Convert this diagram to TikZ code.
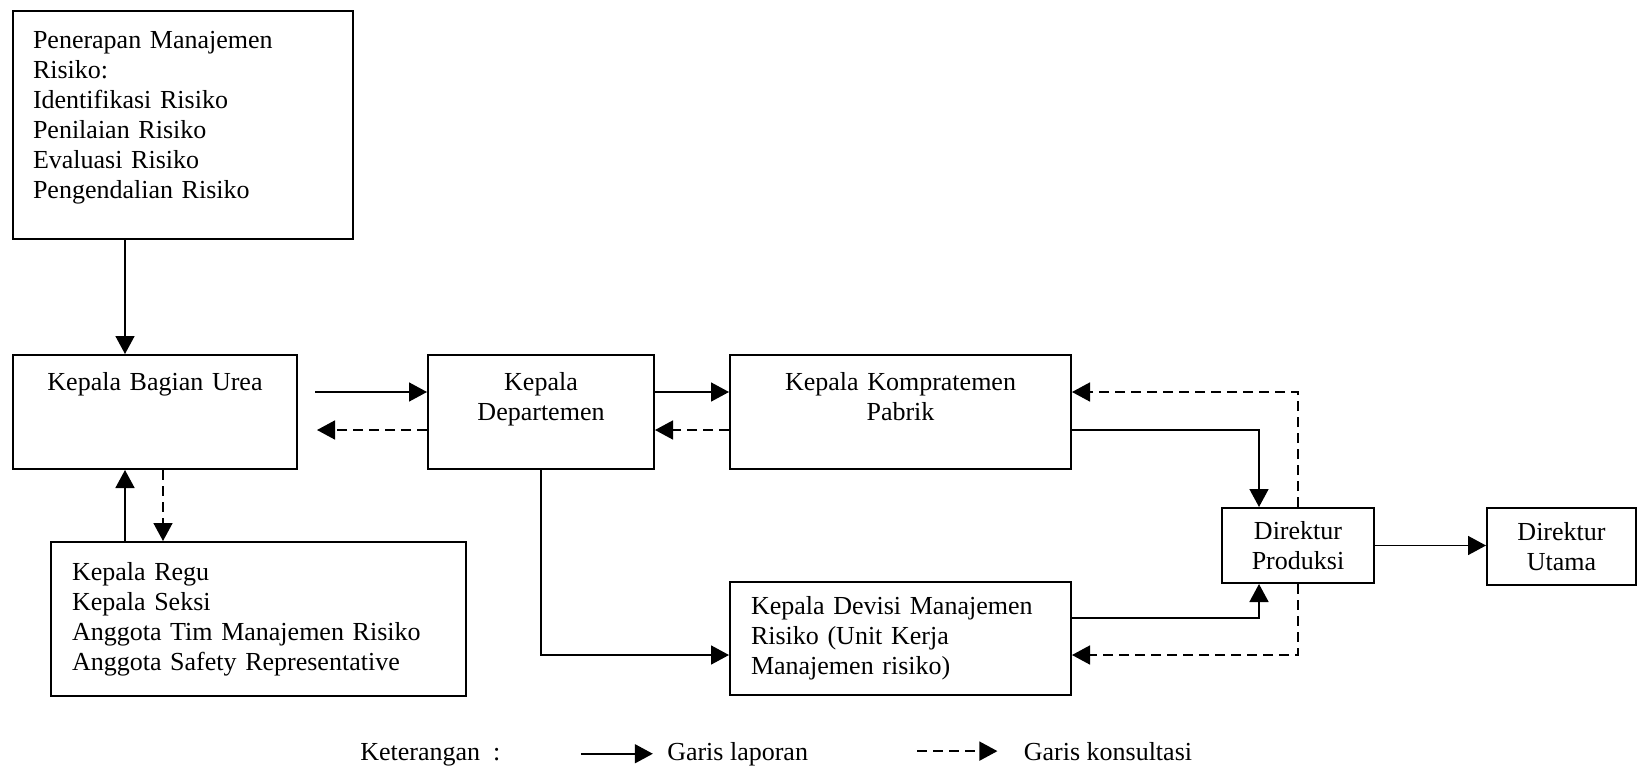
\documentclass[tikz,border=0pt]{standalone}
\usepackage{fontspec}
\setmainfont{Liberation Serif}
\usepackage{tikz}
\usetikzlibrary{positioning, arrows.meta}
\tikzset{%
  >={Triangle[length=9pt,width=9.5pt]},
  % Specifications for style of nodes:
            base/.style = {rectangle, draw=black, line width=1pt,
                           inner sep=0pt, align=center,
                           font=\fontsize{13}{15}\selectfont},
            topbox/.style = {base, text width=#1, inner ysep=8.5pt,
                           text height=9pt, text depth=31pt},
            listbox/.style = {base, align=left, inner xsep=10.5pt},
            legend/.style = {inner sep=0pt, font=\fontsize{13}{15}\selectfont},
  % Specifications for style of lines:
            report/.style = {->, line width=0.8pt},
            consult/.style = {->, line width=0.8pt, dash pattern=on 5pt off 3pt},
 }

\begin{document}
\begin{tikzpicture}
  \useasboundingbox (0,0) rectangle (818.5pt,-388pt);
  % Specification of nodes (position, etc.)
     \node (pen) [listbox, anchor=north west, text width=150pt, inner xsep=10pt,
                  inner ysep=9.5pt, text height=9pt, text depth=86pt] at (6pt,-5pt)
           {Penerapan Manajemen\\Risiko:\\Identifikasi Risiko\\Penilaian Risiko\\Evaluasi Risiko\\Pengendalian Risiko};
     \node (bagian) [topbox=142pt, below=57pt of pen.south west, anchor=north west] {Kepala Bagian Urea};
     \node (dept) [topbox=113pt, right=64.5pt of bagian.north east, anchor=north west] {Kepala\\Departemen};
     \node (komp) [topbox=170.5pt, right=37pt of dept.north east, anchor=north west] {Kepala Kompratemen\\Pabrik};

     \node (regu) [listbox, text width=186.5pt, minimum height=77pt,
                   below right=35.5pt and 19pt of bagian.south west]
           {Kepala Regu\\Kepala Seksi\\Anggota Tim Manajemen Risiko\\Anggota Safety Representative};
     \node (devisi) [listbox, text width=149.5pt, minimum height=56.5pt,
                     below=55.5pt of komp.south west, anchor=north west]
           {Kepala Devisi Manajemen\\Risiko (Unit Kerja\\Manajemen risiko)};

     \node (dirprod) [base, text width=76pt, minimum height=37.5pt,
                      below right=18.5pt and 74.5pt of komp.south east] {Direktur\\Produksi};
     \node (dirut) [base, text width=74.5pt, minimum height=38.5pt,
                    right=55.5pt of dirprod.north east, anchor=north west] {Direktur\\Utama};

     \node (ket) [legend, anchor=base west] at (180pt,-380pt) {Keterangan \ :};
     \node (lapor) [legend, right=83pt of ket.base east, anchor=base west] {Garis laporan};
     \node (konsul) [legend, right=107.5pt of lapor.base east, anchor=base west] {Garis konsultasi};


     \draw[report] ([xshift=56.5pt]pen.south west) -- ([xshift=56.5pt]bagian.north west);

     \draw[report] ([xshift=8.5pt,yshift=-19pt]bagian.north east) -- ([yshift=-19pt]dept.north west);
     \draw[consult] ([yshift=-38pt]dept.north west) -- ([xshift=9.5pt,yshift=-38pt]bagian.north east);
     \draw[report] ([yshift=-19pt]dept.north east) -- ([yshift=-19pt]komp.north west);
     \draw[consult] ([yshift=-38pt]komp.north west) -- ([yshift=-38pt]dept.north east);

     \draw[report] ([xshift=56.5pt]bagian.south west |- regu.north) -- ([xshift=56.5pt]bagian.south west);
     \draw[consult] ([xshift=75.5pt]bagian.south west) -- ([xshift=75.5pt]bagian.south west |- regu.north);

     \draw[report] (dept.south) |- ([yshift=-37pt]devisi.north west);
     \draw[report] ([yshift=-38pt]komp.north east) -| ([xshift=-19.5pt]dirprod.north);
     \draw[consult] (dirprod.north) |- ([yshift=-19pt]komp.north east);
     \draw[report] ([yshift=-18.5pt]devisi.north east) -| ([xshift=-19.5pt]dirprod.south);
     \draw[consult] (dirprod.south) |- ([yshift=-37pt]devisi.north east);
     \draw[report] (dirprod.east) -- (dirprod.east -| dirut.west);

     \draw[report] ([xshift=-43pt]lapor.west) -- ([xshift=-7pt]lapor.west);
     \draw[consult] ([xshift=-53pt]konsul.west) -- ([xshift=-13pt]konsul.west);

   \end{tikzpicture}
\end{document}
